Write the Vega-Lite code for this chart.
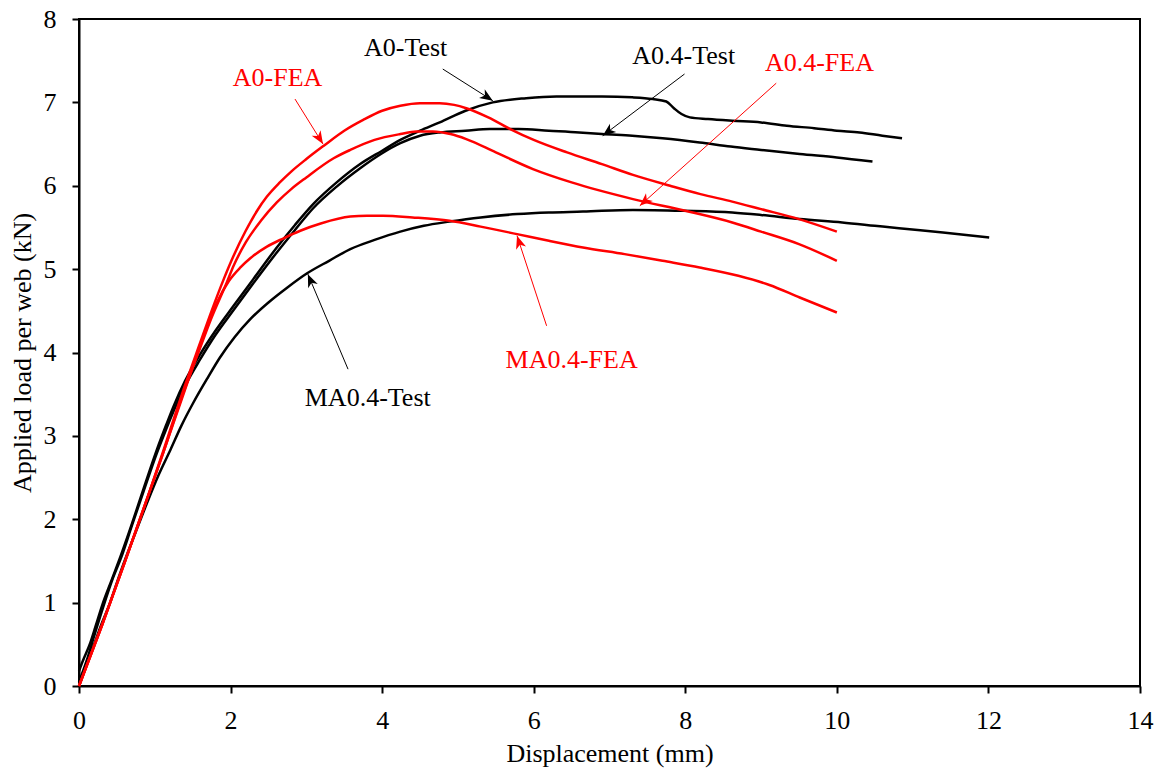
{
  "$schema": "https://vega.github.io/schema/vega-lite/v6.json",
  "width": 1061,
  "height": 667,
  "autosize": {"type": "none"},
  "padding": {"left": 79, "top": 19, "right": 26, "bottom": 89},
  "background": "white",
  "config": {
    "font": "Liberation Serif",
    "view": {"stroke": "black", "strokeWidth": 2},
    "axis": {
      "domainColor": "black", "domainWidth": 2,
      "tickColor": "black", "tickWidth": 2, "tickSize": 7,
      "labelFont": "Liberation Serif", "labelFontSize": 26, "labelColor": "black", "labelFlush": false,
      "titleFont": "Liberation Serif", "titleFontSize": 26, "titleFontWeight": "normal", "titleColor": "black",
      "grid": false
    },
    "axisX": {"labelPadding": 14, "titlePadding": 7},
    "axisY": {"labelPadding": 16, "titlePadding": 8}
  },
  "datasets": {
    "curves": [
      {"series": "A0-Test", "kind": "Test", "x": 0, "y": 0.18},
      {"series": "A0-Test", "kind": "Test", "x": 0.05, "y": 0.3},
      {"series": "A0-Test", "kind": "Test", "x": 0.15, "y": 0.52},
      {"series": "A0-Test", "kind": "Test", "x": 0.22, "y": 0.72},
      {"series": "A0-Test", "kind": "Test", "x": 0.31, "y": 0.98},
      {"series": "A0-Test", "kind": "Test", "x": 0.43, "y": 1.27},
      {"series": "A0-Test", "kind": "Test", "x": 0.55, "y": 1.56},
      {"series": "A0-Test", "kind": "Test", "x": 0.7, "y": 1.95},
      {"series": "A0-Test", "kind": "Test", "x": 0.85, "y": 2.36},
      {"series": "A0-Test", "kind": "Test", "x": 1.03, "y": 2.84},
      {"series": "A0-Test", "kind": "Test", "x": 1.15, "y": 3.13},
      {"series": "A0-Test", "kind": "Test", "x": 1.25, "y": 3.36},
      {"series": "A0-Test", "kind": "Test", "x": 1.4, "y": 3.66},
      {"series": "A0-Test", "kind": "Test", "x": 1.6, "y": 3.98},
      {"series": "A0-Test", "kind": "Test", "x": 1.8, "y": 4.26},
      {"series": "A0-Test", "kind": "Test", "x": 2.04, "y": 4.56},
      {"series": "A0-Test", "kind": "Test", "x": 2.3, "y": 4.88},
      {"series": "A0-Test", "kind": "Test", "x": 2.61, "y": 5.26},
      {"series": "A0-Test", "kind": "Test", "x": 2.85, "y": 5.53},
      {"series": "A0-Test", "kind": "Test", "x": 3.09, "y": 5.78},
      {"series": "A0-Test", "kind": "Test", "x": 3.4, "y": 6.04},
      {"series": "A0-Test", "kind": "Test", "x": 3.71, "y": 6.26},
      {"series": "A0-Test", "kind": "Test", "x": 4.0, "y": 6.42},
      {"series": "A0-Test", "kind": "Test", "x": 4.24, "y": 6.55},
      {"series": "A0-Test", "kind": "Test", "x": 4.5, "y": 6.66},
      {"series": "A0-Test", "kind": "Test", "x": 4.76, "y": 6.76},
      {"series": "A0-Test", "kind": "Test", "x": 5.1, "y": 6.9},
      {"series": "A0-Test", "kind": "Test", "x": 5.46, "y": 7.0},
      {"series": "A0-Test", "kind": "Test", "x": 5.9, "y": 7.05},
      {"series": "A0-Test", "kind": "Test", "x": 6.3, "y": 7.07},
      {"series": "A0-Test", "kind": "Test", "x": 6.9, "y": 7.07},
      {"series": "A0-Test", "kind": "Test", "x": 7.3, "y": 7.06},
      {"series": "A0-Test", "kind": "Test", "x": 7.57, "y": 7.04},
      {"series": "A0-Test", "kind": "Test", "x": 7.75, "y": 7.01},
      {"series": "A0-Test", "kind": "Test", "x": 7.85, "y": 6.93},
      {"series": "A0-Test", "kind": "Test", "x": 7.95, "y": 6.86},
      {"series": "A0-Test", "kind": "Test", "x": 8.06, "y": 6.82},
      {"series": "A0-Test", "kind": "Test", "x": 8.3, "y": 6.8},
      {"series": "A0-Test", "kind": "Test", "x": 8.62, "y": 6.78},
      {"series": "A0-Test", "kind": "Test", "x": 9.0, "y": 6.76},
      {"series": "A0-Test", "kind": "Test", "x": 9.34, "y": 6.72},
      {"series": "A0-Test", "kind": "Test", "x": 9.7, "y": 6.69},
      {"series": "A0-Test", "kind": "Test", "x": 10.0, "y": 6.66},
      {"series": "A0-Test", "kind": "Test", "x": 10.3, "y": 6.64},
      {"series": "A0-Test", "kind": "Test", "x": 10.6, "y": 6.6},
      {"series": "A0-Test", "kind": "Test", "x": 10.86, "y": 6.57},

      {"series": "A0.4-Test", "kind": "Test", "x": 0, "y": 0.05},
      {"series": "A0.4-Test", "kind": "Test", "x": 0.1, "y": 0.3},
      {"series": "A0.4-Test", "kind": "Test", "x": 0.2, "y": 0.6},
      {"series": "A0.4-Test", "kind": "Test", "x": 0.32, "y": 0.95},
      {"series": "A0.4-Test", "kind": "Test", "x": 0.45, "y": 1.3},
      {"series": "A0.4-Test", "kind": "Test", "x": 0.56, "y": 1.55},
      {"series": "A0.4-Test", "kind": "Test", "x": 0.7, "y": 1.93},
      {"series": "A0.4-Test", "kind": "Test", "x": 0.85, "y": 2.33},
      {"series": "A0.4-Test", "kind": "Test", "x": 1.03, "y": 2.8},
      {"series": "A0.4-Test", "kind": "Test", "x": 1.15, "y": 3.08},
      {"series": "A0.4-Test", "kind": "Test", "x": 1.25, "y": 3.3},
      {"series": "A0.4-Test", "kind": "Test", "x": 1.4, "y": 3.6},
      {"series": "A0.4-Test", "kind": "Test", "x": 1.6, "y": 3.92},
      {"series": "A0.4-Test", "kind": "Test", "x": 1.8, "y": 4.21},
      {"series": "A0.4-Test", "kind": "Test", "x": 2.04, "y": 4.51},
      {"series": "A0.4-Test", "kind": "Test", "x": 2.3, "y": 4.83},
      {"series": "A0.4-Test", "kind": "Test", "x": 2.61, "y": 5.2},
      {"series": "A0.4-Test", "kind": "Test", "x": 2.85, "y": 5.47},
      {"series": "A0.4-Test", "kind": "Test", "x": 3.09, "y": 5.73},
      {"series": "A0.4-Test", "kind": "Test", "x": 3.4, "y": 5.99},
      {"series": "A0.4-Test", "kind": "Test", "x": 3.71, "y": 6.21},
      {"series": "A0.4-Test", "kind": "Test", "x": 4.0, "y": 6.39},
      {"series": "A0.4-Test", "kind": "Test", "x": 4.24, "y": 6.51},
      {"series": "A0.4-Test", "kind": "Test", "x": 4.5, "y": 6.6},
      {"series": "A0.4-Test", "kind": "Test", "x": 4.76, "y": 6.64},
      {"series": "A0.4-Test", "kind": "Test", "x": 5.1, "y": 6.66},
      {"series": "A0.4-Test", "kind": "Test", "x": 5.42, "y": 6.68},
      {"series": "A0.4-Test", "kind": "Test", "x": 5.8, "y": 6.68},
      {"series": "A0.4-Test", "kind": "Test", "x": 6.2, "y": 6.66},
      {"series": "A0.4-Test", "kind": "Test", "x": 6.6, "y": 6.64},
      {"series": "A0.4-Test", "kind": "Test", "x": 6.9, "y": 6.62},
      {"series": "A0.4-Test", "kind": "Test", "x": 7.3, "y": 6.6},
      {"series": "A0.4-Test", "kind": "Test", "x": 7.7, "y": 6.57},
      {"series": "A0.4-Test", "kind": "Test", "x": 8.19, "y": 6.52},
      {"series": "A0.4-Test", "kind": "Test", "x": 8.6, "y": 6.47},
      {"series": "A0.4-Test", "kind": "Test", "x": 9.0, "y": 6.43},
      {"series": "A0.4-Test", "kind": "Test", "x": 9.51, "y": 6.38},
      {"series": "A0.4-Test", "kind": "Test", "x": 10.0, "y": 6.34},
      {"series": "A0.4-Test", "kind": "Test", "x": 10.47, "y": 6.29},

      {"series": "MA0.4-Test", "kind": "Test", "x": 0, "y": 0},
      {"series": "MA0.4-Test", "kind": "Test", "x": 0.1, "y": 0.25},
      {"series": "MA0.4-Test", "kind": "Test", "x": 0.2, "y": 0.5},
      {"series": "MA0.4-Test", "kind": "Test", "x": 0.3, "y": 0.75},
      {"series": "MA0.4-Test", "kind": "Test", "x": 0.41, "y": 1.0},
      {"series": "MA0.4-Test", "kind": "Test", "x": 0.5, "y": 1.24},
      {"series": "MA0.4-Test", "kind": "Test", "x": 0.61, "y": 1.52},
      {"series": "MA0.4-Test", "kind": "Test", "x": 0.75, "y": 1.85},
      {"series": "MA0.4-Test", "kind": "Test", "x": 0.9, "y": 2.2},
      {"series": "MA0.4-Test", "kind": "Test", "x": 1.05, "y": 2.53},
      {"series": "MA0.4-Test", "kind": "Test", "x": 1.21, "y": 2.84},
      {"series": "MA0.4-Test", "kind": "Test", "x": 1.35, "y": 3.12},
      {"series": "MA0.4-Test", "kind": "Test", "x": 1.51, "y": 3.4},
      {"series": "MA0.4-Test", "kind": "Test", "x": 1.7, "y": 3.7},
      {"series": "MA0.4-Test", "kind": "Test", "x": 1.86, "y": 3.94},
      {"series": "MA0.4-Test", "kind": "Test", "x": 2.05, "y": 4.18},
      {"series": "MA0.4-Test", "kind": "Test", "x": 2.26, "y": 4.4},
      {"series": "MA0.4-Test", "kind": "Test", "x": 2.5, "y": 4.6},
      {"series": "MA0.4-Test", "kind": "Test", "x": 2.75, "y": 4.78},
      {"series": "MA0.4-Test", "kind": "Test", "x": 3.01, "y": 4.95},
      {"series": "MA0.4-Test", "kind": "Test", "x": 3.3, "y": 5.1},
      {"series": "MA0.4-Test", "kind": "Test", "x": 3.58, "y": 5.24},
      {"series": "MA0.4-Test", "kind": "Test", "x": 3.9, "y": 5.35},
      {"series": "MA0.4-Test", "kind": "Test", "x": 4.24, "y": 5.45},
      {"series": "MA0.4-Test", "kind": "Test", "x": 4.55, "y": 5.52},
      {"series": "MA0.4-Test", "kind": "Test", "x": 4.89, "y": 5.57},
      {"series": "MA0.4-Test", "kind": "Test", "x": 5.3, "y": 5.62},
      {"series": "MA0.4-Test", "kind": "Test", "x": 5.78, "y": 5.66},
      {"series": "MA0.4-Test", "kind": "Test", "x": 6.2, "y": 5.68},
      {"series": "MA0.4-Test", "kind": "Test", "x": 6.65, "y": 5.69},
      {"series": "MA0.4-Test", "kind": "Test", "x": 7.31, "y": 5.71},
      {"series": "MA0.4-Test", "kind": "Test", "x": 7.97, "y": 5.7},
      {"series": "MA0.4-Test", "kind": "Test", "x": 8.62, "y": 5.68},
      {"series": "MA0.4-Test", "kind": "Test", "x": 9.0, "y": 5.65},
      {"series": "MA0.4-Test", "kind": "Test", "x": 9.51, "y": 5.6},
      {"series": "MA0.4-Test", "kind": "Test", "x": 10.07, "y": 5.56},
      {"series": "MA0.4-Test", "kind": "Test", "x": 10.5, "y": 5.52},
      {"series": "MA0.4-Test", "kind": "Test", "x": 10.82, "y": 5.49},
      {"series": "MA0.4-Test", "kind": "Test", "x": 11.4, "y": 5.44},
      {"series": "MA0.4-Test", "kind": "Test", "x": 12.01, "y": 5.38},

      {"series": "A0-FEA", "kind": "FEA", "x": 0, "y": 0},
      {"series": "A0-FEA", "kind": "FEA", "x": 0.3, "y": 0.72},
      {"series": "A0-FEA", "kind": "FEA", "x": 0.61, "y": 1.5},
      {"series": "A0-FEA", "kind": "FEA", "x": 0.9, "y": 2.25},
      {"series": "A0-FEA", "kind": "FEA", "x": 1.12, "y": 2.84},
      {"series": "A0-FEA", "kind": "FEA", "x": 1.34, "y": 3.45},
      {"series": "A0-FEA", "kind": "FEA", "x": 1.6, "y": 4.12},
      {"series": "A0-FEA", "kind": "FEA", "x": 1.75, "y": 4.5},
      {"series": "A0-FEA", "kind": "FEA", "x": 1.91, "y": 4.88},
      {"series": "A0-FEA", "kind": "FEA", "x": 2.04, "y": 5.16},
      {"series": "A0-FEA", "kind": "FEA", "x": 2.2, "y": 5.46},
      {"series": "A0-FEA", "kind": "FEA", "x": 2.35, "y": 5.7},
      {"series": "A0-FEA", "kind": "FEA", "x": 2.48, "y": 5.87},
      {"series": "A0-FEA", "kind": "FEA", "x": 2.65, "y": 6.04},
      {"series": "A0-FEA", "kind": "FEA", "x": 2.8, "y": 6.17},
      {"series": "A0-FEA", "kind": "FEA", "x": 3.0, "y": 6.32},
      {"series": "A0-FEA", "kind": "FEA", "x": 3.23, "y": 6.48},
      {"series": "A0-FEA", "kind": "FEA", "x": 3.5, "y": 6.66},
      {"series": "A0-FEA", "kind": "FEA", "x": 3.75, "y": 6.79},
      {"series": "A0-FEA", "kind": "FEA", "x": 4.0, "y": 6.9},
      {"series": "A0-FEA", "kind": "FEA", "x": 4.24, "y": 6.96},
      {"series": "A0-FEA", "kind": "FEA", "x": 4.5, "y": 6.99},
      {"series": "A0-FEA", "kind": "FEA", "x": 4.76, "y": 6.99},
      {"series": "A0-FEA", "kind": "FEA", "x": 4.95, "y": 6.97},
      {"series": "A0-FEA", "kind": "FEA", "x": 5.11, "y": 6.93},
      {"series": "A0-FEA", "kind": "FEA", "x": 5.4, "y": 6.82},
      {"series": "A0-FEA", "kind": "FEA", "x": 5.69, "y": 6.68},
      {"series": "A0-FEA", "kind": "FEA", "x": 6.0, "y": 6.55},
      {"series": "A0-FEA", "kind": "FEA", "x": 6.44, "y": 6.4},
      {"series": "A0-FEA", "kind": "FEA", "x": 6.9, "y": 6.26},
      {"series": "A0-FEA", "kind": "FEA", "x": 7.31, "y": 6.13},
      {"series": "A0-FEA", "kind": "FEA", "x": 7.8, "y": 6.0},
      {"series": "A0-FEA", "kind": "FEA", "x": 8.2, "y": 5.9},
      {"series": "A0-FEA", "kind": "FEA", "x": 8.62, "y": 5.81},
      {"series": "A0-FEA", "kind": "FEA", "x": 9.0, "y": 5.72},
      {"series": "A0-FEA", "kind": "FEA", "x": 9.5, "y": 5.6},
      {"series": "A0-FEA", "kind": "FEA", "x": 10.0, "y": 5.45},

      {"series": "A0.4-FEA", "kind": "FEA", "x": 0, "y": 0},
      {"series": "A0.4-FEA", "kind": "FEA", "x": 0.3, "y": 0.72},
      {"series": "A0.4-FEA", "kind": "FEA", "x": 0.61, "y": 1.5},
      {"series": "A0.4-FEA", "kind": "FEA", "x": 0.9, "y": 2.25},
      {"series": "A0.4-FEA", "kind": "FEA", "x": 1.12, "y": 2.82},
      {"series": "A0.4-FEA", "kind": "FEA", "x": 1.34, "y": 3.42},
      {"series": "A0.4-FEA", "kind": "FEA", "x": 1.6, "y": 4.06},
      {"series": "A0.4-FEA", "kind": "FEA", "x": 1.75, "y": 4.42},
      {"series": "A0.4-FEA", "kind": "FEA", "x": 1.95, "y": 4.84},
      {"series": "A0.4-FEA", "kind": "FEA", "x": 2.04, "y": 5.04},
      {"series": "A0.4-FEA", "kind": "FEA", "x": 2.2, "y": 5.32},
      {"series": "A0.4-FEA", "kind": "FEA", "x": 2.4, "y": 5.58},
      {"series": "A0.4-FEA", "kind": "FEA", "x": 2.61, "y": 5.8},
      {"series": "A0.4-FEA", "kind": "FEA", "x": 2.8, "y": 5.96},
      {"series": "A0.4-FEA", "kind": "FEA", "x": 3.0, "y": 6.1},
      {"series": "A0.4-FEA", "kind": "FEA", "x": 3.36, "y": 6.33},
      {"series": "A0.4-FEA", "kind": "FEA", "x": 3.58, "y": 6.43},
      {"series": "A0.4-FEA", "kind": "FEA", "x": 3.9, "y": 6.55},
      {"series": "A0.4-FEA", "kind": "FEA", "x": 4.24, "y": 6.62},
      {"series": "A0.4-FEA", "kind": "FEA", "x": 4.45, "y": 6.65},
      {"series": "A0.4-FEA", "kind": "FEA", "x": 4.67, "y": 6.65},
      {"series": "A0.4-FEA", "kind": "FEA", "x": 4.9, "y": 6.62},
      {"series": "A0.4-FEA", "kind": "FEA", "x": 5.11, "y": 6.56},
      {"series": "A0.4-FEA", "kind": "FEA", "x": 5.5, "y": 6.4},
      {"series": "A0.4-FEA", "kind": "FEA", "x": 5.99, "y": 6.2},
      {"series": "A0.4-FEA", "kind": "FEA", "x": 6.5, "y": 6.04},
      {"series": "A0.4-FEA", "kind": "FEA", "x": 7.31, "y": 5.84},
      {"series": "A0.4-FEA", "kind": "FEA", "x": 8.0, "y": 5.7},
      {"series": "A0.4-FEA", "kind": "FEA", "x": 8.62, "y": 5.56},
      {"series": "A0.4-FEA", "kind": "FEA", "x": 9.0, "y": 5.45},
      {"series": "A0.4-FEA", "kind": "FEA", "x": 9.5, "y": 5.3},
      {"series": "A0.4-FEA", "kind": "FEA", "x": 10.0, "y": 5.1},

      {"series": "MA0.4-FEA", "kind": "FEA", "x": 0, "y": 0},
      {"series": "MA0.4-FEA", "kind": "FEA", "x": 0.3, "y": 0.72},
      {"series": "MA0.4-FEA", "kind": "FEA", "x": 0.61, "y": 1.5},
      {"series": "MA0.4-FEA", "kind": "FEA", "x": 0.9, "y": 2.25},
      {"series": "MA0.4-FEA", "kind": "FEA", "x": 1.12, "y": 2.82},
      {"series": "MA0.4-FEA", "kind": "FEA", "x": 1.34, "y": 3.4},
      {"series": "MA0.4-FEA", "kind": "FEA", "x": 1.55, "y": 3.95},
      {"series": "MA0.4-FEA", "kind": "FEA", "x": 1.7, "y": 4.33},
      {"series": "MA0.4-FEA", "kind": "FEA", "x": 1.82, "y": 4.6},
      {"series": "MA0.4-FEA", "kind": "FEA", "x": 1.98, "y": 4.86},
      {"series": "MA0.4-FEA", "kind": "FEA", "x": 2.13, "y": 5.02},
      {"series": "MA0.4-FEA", "kind": "FEA", "x": 2.26, "y": 5.13},
      {"series": "MA0.4-FEA", "kind": "FEA", "x": 2.48, "y": 5.27},
      {"series": "MA0.4-FEA", "kind": "FEA", "x": 2.7, "y": 5.37},
      {"series": "MA0.4-FEA", "kind": "FEA", "x": 2.92, "y": 5.46},
      {"series": "MA0.4-FEA", "kind": "FEA", "x": 3.2, "y": 5.55},
      {"series": "MA0.4-FEA", "kind": "FEA", "x": 3.58, "y": 5.63},
      {"series": "MA0.4-FEA", "kind": "FEA", "x": 3.8, "y": 5.64},
      {"series": "MA0.4-FEA", "kind": "FEA", "x": 4.01, "y": 5.64},
      {"series": "MA0.4-FEA", "kind": "FEA", "x": 4.4, "y": 5.62},
      {"series": "MA0.4-FEA", "kind": "FEA", "x": 4.89, "y": 5.58},
      {"series": "MA0.4-FEA", "kind": "FEA", "x": 5.3, "y": 5.51},
      {"series": "MA0.4-FEA", "kind": "FEA", "x": 5.78, "y": 5.42},
      {"series": "MA0.4-FEA", "kind": "FEA", "x": 6.2, "y": 5.34},
      {"series": "MA0.4-FEA", "kind": "FEA", "x": 6.65, "y": 5.26},
      {"series": "MA0.4-FEA", "kind": "FEA", "x": 7.2, "y": 5.18},
      {"series": "MA0.4-FEA", "kind": "FEA", "x": 7.7, "y": 5.1},
      {"series": "MA0.4-FEA", "kind": "FEA", "x": 8.19, "y": 5.02},
      {"series": "MA0.4-FEA", "kind": "FEA", "x": 8.7, "y": 4.92},
      {"series": "MA0.4-FEA", "kind": "FEA", "x": 9.11, "y": 4.81},
      {"series": "MA0.4-FEA", "kind": "FEA", "x": 9.51, "y": 4.66},
      {"series": "MA0.4-FEA", "kind": "FEA", "x": 10.0, "y": 4.48}
    ],
    "notes": [
      {"label": "A0-FEA", "kind": "FEA", "tx": 2.62, "ty": 7.2, "ax": 2.85, "ay": 7.04, "bx": 3.22, "by": 6.5},
      {"label": "A0-Test", "kind": "Test", "tx": 4.31, "ty": 7.56, "ax": 4.8, "ay": 7.4, "bx": 5.46, "by": 7.02},
      {"label": "A0.4-Test", "kind": "Test", "tx": 7.98, "ty": 7.46, "ax": 7.99, "ay": 7.34, "bx": 6.91, "by": 6.6},
      {"label": "A0.4-FEA", "kind": "FEA", "tx": 9.77, "ty": 7.38, "ax": 9.2, "ay": 7.23, "bx": 7.4, "by": 5.76},
      {"label": "MA0.4-FEA", "kind": "FEA", "tx": 6.5, "ty": 3.82, "ax": 6.17, "ay": 4.32, "bx": 5.78, "by": 5.4},
      {"label": "MA0.4-Test", "kind": "Test", "tx": 3.81, "ty": 3.36, "ax": 3.55, "ay": 3.8, "bx": 3.02, "by": 4.94}
    ]
  },
  "layer": [
    {
      "data": {"name": "curves"},
      "mark": {"type": "line", "strokeWidth": 2.5, "strokeJoin": "round", "interpolate": "monotone"},
      "encoding": {
        "x": {"field": "x", "type": "quantitative", "title": "Displacement (mm)",
              "scale": {"domain": [0, 14], "nice": false},
              "axis": {"values": [0, 2, 4, 6, 8, 10, 12, 14], "format": "d", "labelFont": "Liberation Serif", "titleFont": "Liberation Serif"}},
        "y": {"field": "y", "type": "quantitative", "title": "Applied load per web (kN)",
              "scale": {"domain": [0, 8], "nice": false},
              "axis": {"values": [0, 1, 2, 3, 4, 5, 6, 7, 8], "format": "d", "labelFont": "Liberation Serif", "titleFont": "Liberation Serif"}},
        "color": {"field": "kind", "type": "nominal",
                  "scale": {"domain": ["Test", "FEA"], "range": ["#000000", "#ff0000"]}, "legend": null},
        "detail": {"field": "series", "type": "nominal"}
      }
    },
    {
      "data": {"name": "notes"},
      "mark": {"type": "rule", "strokeWidth": 1},
      "encoding": {
        "x": {"field": "ax", "type": "quantitative", "title": "Displacement (mm)"},
        "y": {"field": "ay", "type": "quantitative", "title": "Applied load per web (kN)"},
        "x2": {"field": "bx"},
        "y2": {"field": "by"},
        "color": {"field": "kind", "type": "nominal", "legend": null}
      }
    },
    {
      "data": {"name": "notes"},
      "mark": {"type": "text", "font": "Liberation Serif", "fontSize": 26, "baseline": "alphabetic", "align": "center"},
      "encoding": {
        "x": {"field": "tx", "type": "quantitative", "title": "Displacement (mm)"},
        "y": {"field": "ty", "type": "quantitative", "title": "Applied load per web (kN)"},
        "text": {"field": "label"},
        "color": {"field": "kind", "type": "nominal", "legend": null}
      }
    },
    {
      "data": {"name": "notes"},
      "transform": [{"filter": "datum.label === 'A0-FEA'"}],
      "mark": {"type": "point", "shape": "M0,0L0.4,1L0,0.72L-0.4,1Z", "filled": true, "size": 676, "angle": 148, "opacity": 1},
      "encoding": {
        "x": {"field": "bx", "type": "quantitative", "title": "Displacement (mm)"},
        "y": {"field": "by", "type": "quantitative", "title": "Applied load per web (kN)"},
        "color": {"field": "kind", "type": "nominal", "legend": null}
      }
    },
    {
      "data": {"name": "notes"},
      "transform": [{"filter": "datum.label === 'A0-Test'"}],
      "mark": {"type": "point", "shape": "M0,0L0.4,1L0,0.72L-0.4,1Z", "filled": true, "size": 676, "angle": 123, "opacity": 1},
      "encoding": {
        "x": {"field": "bx", "type": "quantitative", "title": "Displacement (mm)"},
        "y": {"field": "by", "type": "quantitative", "title": "Applied load per web (kN)"},
        "color": {"field": "kind", "type": "nominal", "legend": null}
      }
    },
    {
      "data": {"name": "notes"},
      "transform": [{"filter": "datum.label === 'A0.4-Test'"}],
      "mark": {"type": "point", "shape": "M0,0L0.4,1L0,0.72L-0.4,1Z", "filled": true, "size": 676, "angle": 233, "opacity": 1},
      "encoding": {
        "x": {"field": "bx", "type": "quantitative", "title": "Displacement (mm)"},
        "y": {"field": "by", "type": "quantitative", "title": "Applied load per web (kN)"},
        "color": {"field": "kind", "type": "nominal", "legend": null}
      }
    },
    {
      "data": {"name": "notes"},
      "transform": [{"filter": "datum.label === 'A0.4-FEA'"}],
      "mark": {"type": "point", "shape": "M0,0L0.4,1L0,0.72L-0.4,1Z", "filled": true, "size": 676, "angle": 228, "opacity": 1},
      "encoding": {
        "x": {"field": "bx", "type": "quantitative", "title": "Displacement (mm)"},
        "y": {"field": "by", "type": "quantitative", "title": "Applied load per web (kN)"},
        "color": {"field": "kind", "type": "nominal", "legend": null}
      }
    },
    {
      "data": {"name": "notes"},
      "transform": [{"filter": "datum.label === 'MA0.4-FEA'"}],
      "mark": {"type": "point", "shape": "M0,0L0.4,1L0,0.72L-0.4,1Z", "filled": true, "size": 676, "angle": 342, "opacity": 1},
      "encoding": {
        "x": {"field": "bx", "type": "quantitative", "title": "Displacement (mm)"},
        "y": {"field": "by", "type": "quantitative", "title": "Applied load per web (kN)"},
        "color": {"field": "kind", "type": "nominal", "legend": null}
      }
    },
    {
      "data": {"name": "notes"},
      "transform": [{"filter": "datum.label === 'MA0.4-Test'"}],
      "mark": {"type": "point", "shape": "M0,0L0.4,1L0,0.72L-0.4,1Z", "filled": true, "size": 676, "angle": 337, "opacity": 1},
      "encoding": {
        "x": {"field": "bx", "type": "quantitative", "title": "Displacement (mm)"},
        "y": {"field": "by", "type": "quantitative", "title": "Applied load per web (kN)"},
        "color": {"field": "kind", "type": "nominal", "legend": null}
      }
    }
  ]
}
